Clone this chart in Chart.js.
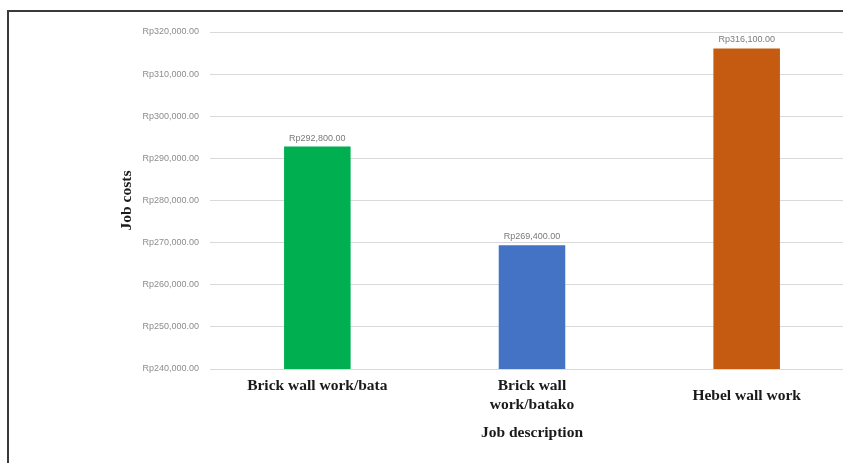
<!DOCTYPE html>
<html>
<head>
<meta charset="utf-8">
<script src="https://cdn.jsdelivr.net/npm/chart.js@4/dist/chart.umd.min.js"></script>
<style>
  html, body { margin: 0; padding: 0; width: 843px; height: 463px; overflow: hidden; background: #fff; }
  #frame { position: absolute; left: 7px; top: 10px; width: 900px; height: 500px;
           border-left: 2px solid #3a3a3a; border-top: 2px solid #3a3a3a; }
  #c { position: absolute; left: 0; top: 0; }
</style>
</head>
<body>
<div id="frame"></div>
<canvas id="c" width="854" height="463"></canvas>
<script>
const categories = [
  ["Brick wall work/bata", ""],
  ["Brick wall", "work/batako"],
  ["Hebel wall work"]
];
const jobCosts = [292800, 269400, 316100];
const barColors = ["#00b050", "#4472c4", "#c55a11"];
const yMin = 240000, yMax = 320000, yStep = 10000;
const yTitle = "Job costs";
const xTitle = "Job description";

function rp(v) {
  return "Rp" + v.toLocaleString("en-US", { minimumFractionDigits: 2, maximumFractionDigits: 2 });
}

const valueLabels = {
  id: "valueLabels",
  afterDatasetsDraw(chart) {
    const ctx = chart.ctx;
    const meta = chart.getDatasetMeta(0);
    ctx.save();
    ctx.font = "9px 'Liberation Sans', Arial, sans-serif";
    ctx.fillStyle = "#7a7a7a";
    ctx.textAlign = "center";
    ctx.textBaseline = "bottom";
    meta.data.forEach((bar, i) => {
      ctx.fillText(rp(chart.data.datasets[0].data[i]), bar.x, bar.y - 4);
    });
    ctx.restore();
  }
};

new Chart(document.getElementById("c"), {
  type: "bar",
  data: {
    labels: categories,
    datasets: [{
      data: jobCosts,
      backgroundColor: barColors,
      borderWidth: 0,
      categoryPercentage: 1,
      barPercentage: 0.31
    }]
  },
  options: {
    responsive: false,
    animation: false,
    layout: { padding: { left: 112, top: 32, right: 0, bottom: 20 } },
    plugins: { legend: { display: false }, tooltip: { enabled: false } },
    scales: {
      x: {
        grid: { display: false },
        border: { display: false },
        ticks: {
          color: "#1a1a1a",
          padding: 9,
          crossAlign: "center",
          font: { family: "'Liberation Serif', 'Times New Roman', serif", size: 15.5, weight: "bold", lineHeight: 1.25 }
        },
        title: {
          display: true,
          text: xTitle,
          color: "#1a1a1a",
          padding: { top: 0, bottom: 1 },
          font: { family: "'Liberation Serif', 'Times New Roman', serif", size: 15.5, weight: "bold" }
        },
        afterFit(scale) { scale.height = 463 - 369 - 20; }
      },
      y: {
        min: yMin,
        max: yMax,
        grid: { color: "#d9d9d9", lineWidth: 1, drawTicks: false },
        border: { display: false },
        ticks: {
          stepSize: yStep,
          padding: 11,
          color: "#8c8c8c",
          font: { family: "'Liberation Sans', Arial, sans-serif", size: 9 },
          callback: (v) => rp(v)
        },
        title: {
          display: true,
          text: yTitle,
          color: "#1a1a1a",
          padding: { top: 6, bottom: 0 },
          font: { family: "'Liberation Serif', 'Times New Roman', serif", size: 15.5, weight: "bold" }
        },
        afterFit(scale) { scale.width = 98; }
      }
    }
  },
  plugins: [valueLabels]
});
</script>
</body>
</html>
